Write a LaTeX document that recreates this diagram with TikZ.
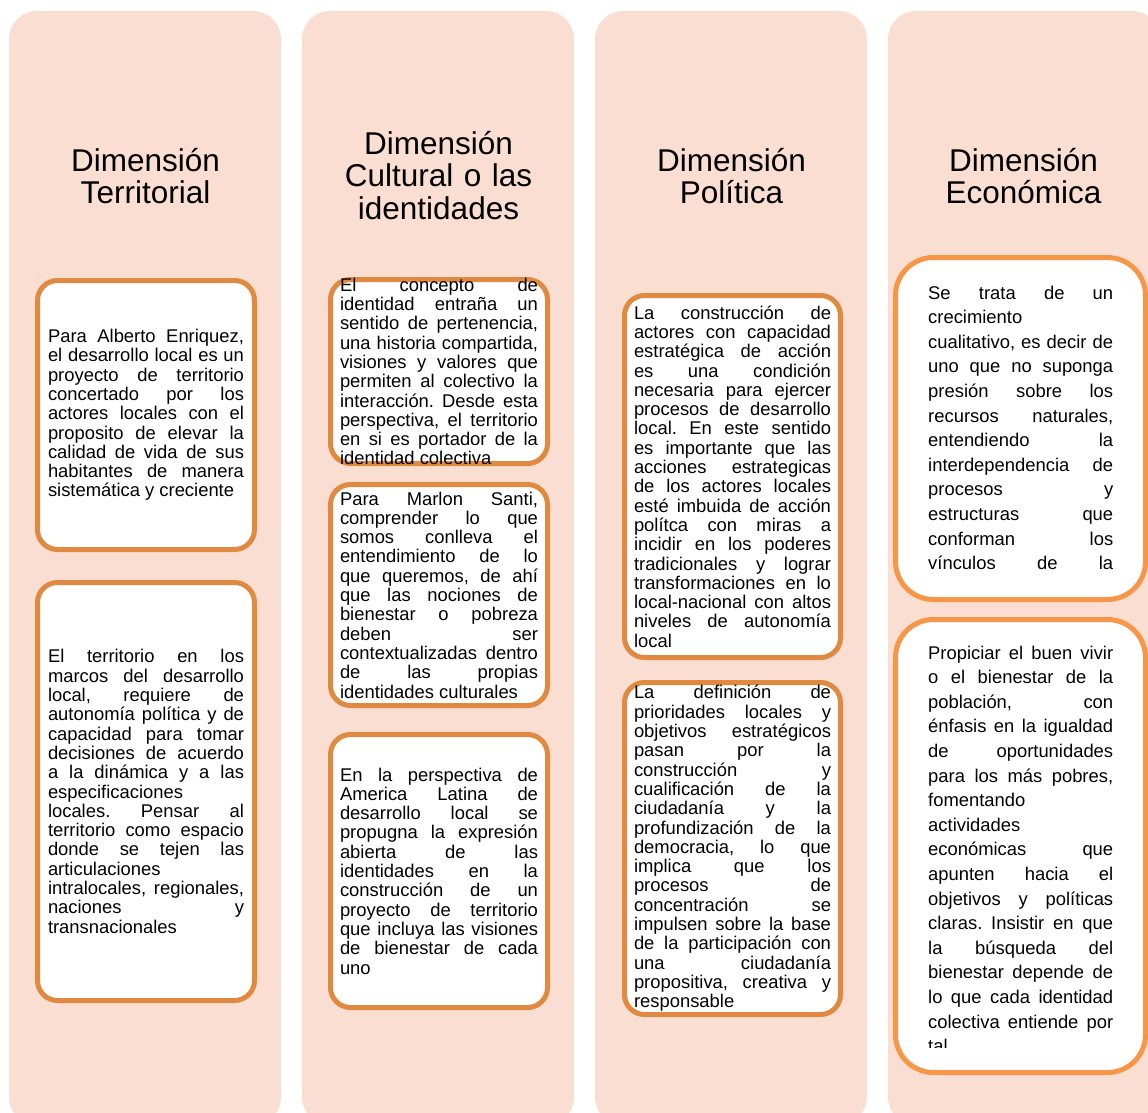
\documentclass[tikz,border=0pt]{standalone}
\usepackage{fontspec}
\setmainfont{Liberation Sans}
\definecolor{durazno}{RGB}{251,222,210}
\definecolor{naranja}{RGB}{224,137,64}
\definecolor{naranjab}{RGB}{247,150,70}
\newcommand{\cuerpo}{\fontsize{18.4}{19.3}\selectfont\frenchspacing\tolerance=10000\hyphenpenalty=10000}
\newcommand{\cuerpob}{\fontsize{18.4}{24.6}\selectfont\frenchspacing\tolerance=10000\hyphenpenalty=10000}
\newcommand{\letratitulo}{\fontsize{31.5}{32.8}\selectfont}
\tikzset{
  columna/.style={fill=durazno, rounded corners=28pt},
  caja/.style={draw=naranja, line width=5pt, fill=white, rounded corners=20pt, inner sep=0pt, minimum width=217pt},
  cajab/.style={draw=naranjab, line width=5pt, fill=white, rounded corners=38pt, inner sep=0pt, minimum width=250pt},
  texto/.style={text width=196pt, align=justify, inner sep=0pt, font=\cuerpo},
  textob/.style={text width=185pt, align=justify, inner sep=0pt, font=\cuerpob, anchor=base west},
  titulo/.style={text width=260pt, align=center, inner sep=0pt, font=\letratitulo, anchor=base}
}
\begin{document}
\begin{tikzpicture}[x=1pt,y=-1pt]
\useasboundingbox (0,0) rectangle (1148,1113);
\fill[columna] (9,11) rectangle (281,1125);
\fill[columna] (302,11) rectangle (574,1125);
\fill[columna] (595,11) rectangle (867,1125);
\fill[columna] (888,11) rectangle (1160,1125);

\node[titulo] (dterr) at (145.5,171) {Dimensión\\Territorial};
\node[titulo] (dcult) at (438.5,154) {Dimensión\\Cultural o las\\identidades};
\node[titulo] (dpoli) at (731.5,171) {Dimensión\\Política};
\node[titulo] (decon) at (1023.5,171) {Dimensión\\Económica};

\node[caja, minimum height=269pt] (ter1) at (146,415) {};
\node[caja, minimum height=418pt] (ter2) at (146,791.5) {};
\node[caja, minimum height=184pt] (cul1) at (439,371.5) {};
\node[caja, minimum height=221pt] (cul2) at (439,595) {};
\node[caja, minimum height=273pt] (cul3) at (439,871) {};
\node[caja, minimum width=216pt, minimum height=362pt] (pol1) at (732.5,476.5) {};
\node[caja, minimum width=216pt, minimum height=332pt] (pol2) at (732.5,848.5) {};
\node[cajab, minimum height=342pt] (eco1) at (1020.5,428.5) {};
\node[cajab, minimum height=453pt] (eco2) at (1020.5,846) {};

\node[texto] (ter1t) at (ter1.center) {Para Alberto Enriquez,\linebreak el desarrollo local es un\linebreak proyecto de territorio\linebreak concertado por los\linebreak actores locales con el\linebreak proposito de elevar la\linebreak calidad de vida de sus\linebreak habitantes de manera\linebreak sistemática y creciente};
\node[texto] (ter2t) at (ter2.center) {El territorio en los\linebreak marcos del desarrollo\linebreak local, requiere de\linebreak autonomía política y de\linebreak capacidad para tomar\linebreak decisiones de acuerdo\linebreak a la dinámica y a las\linebreak especificaciones\linebreak locales. Pensar al\linebreak territorio como espacio\linebreak donde se tejen las\linebreak articulaciones\linebreak intralocales, regionales,\linebreak naciones y\linebreak transnacionales};
\node[texto, text width=198pt] (cul1t) at (cul1.center) {El concepto de\linebreak identidad entraña un\linebreak sentido de pertenencia,\linebreak una historia compartida,\linebreak visiones y valores que\linebreak permiten al colectivo la\linebreak interacción. Desde esta\linebreak perspectiva, el territorio\linebreak en si es portador de la\linebreak identidad colectiva};
\node[texto, text width=198pt] (cul2t) at (cul2.center) {Para Marlon Santi,\linebreak comprender lo que\linebreak somos conlleva el\linebreak entendimiento de lo\linebreak que queremos, de ahí\linebreak que las nociones de\linebreak bienestar o pobreza\linebreak deben ser\linebreak contextualizadas dentro\linebreak de las propias\linebreak identidades culturales};
\node[texto, text width=198pt] (cul3t) at (cul3.center) {En la perspectiva de\linebreak America Latina de\linebreak desarrollo local se\linebreak propugna la expresión\linebreak abierta de las\linebreak identidades en la\linebreak construcción de un\linebreak proyecto de territorio\linebreak que incluya las visiones\linebreak de bienestar de cada\linebreak uno};
\node[texto, text width=197pt] (pol1t) at (pol1.center) {La construcción de\linebreak actores con capacidad\linebreak estratégica de acción\linebreak es una condición\linebreak necesaria para ejercer\linebreak procesos de desarrollo\linebreak local. En este sentido\linebreak es importante que las\linebreak acciones estrategicas\linebreak de los actores locales\linebreak esté imbuida de acción\linebreak polítca con miras a\linebreak incidir en los poderes\linebreak tradicionales y lograr\linebreak transformaciones en lo\linebreak local-nacional con altos\linebreak niveles de autonomía\linebreak local};
\node[texto, text width=197pt] (pol2t) at (pol2.center) {La definición de\linebreak prioridades locales y\linebreak objetivos estratégicos\linebreak pasan por la\linebreak construcción y\linebreak cualificación de la\linebreak ciudadanía y la\linebreak profundización de la\linebreak democracia, lo que\linebreak implica que los\linebreak procesos de\linebreak concentración se\linebreak impulsen sobre la base\linebreak de la participación con\linebreak una ciudadanía\linebreak propositiva, creativa y\linebreak responsable};

\node[textob] (eco1t) at (928,299) {Se trata de un\linebreak crecimiento\linebreak cualitativo, es decir de\linebreak uno que no suponga\linebreak presión sobre los\linebreak recursos naturales,\linebreak entendiendo la\linebreak interdependencia de\linebreak procesos y\linebreak estructuras que\linebreak conforman los\linebreak vínculos\hfill de\hfill la};
\begin{scope}
\clip (890,617) rectangle (1148,1047);
\node[textob] (eco2t) at (928,659) {Propiciar el buen vivir\linebreak o el bienestar de la\linebreak población, con\linebreak énfasis en la igualdad\linebreak de oportunidades\linebreak para los más pobres,\linebreak fomentando\linebreak actividades\linebreak económicas que\linebreak apunten hacia el\linebreak objetivos y políticas\linebreak claras. Insistir en que\linebreak la búsqueda del\linebreak bienestar depende de\linebreak lo que cada identidad\linebreak colectiva entiende por\linebreak tal};
\end{scope}
\end{tikzpicture}
\end{document}
